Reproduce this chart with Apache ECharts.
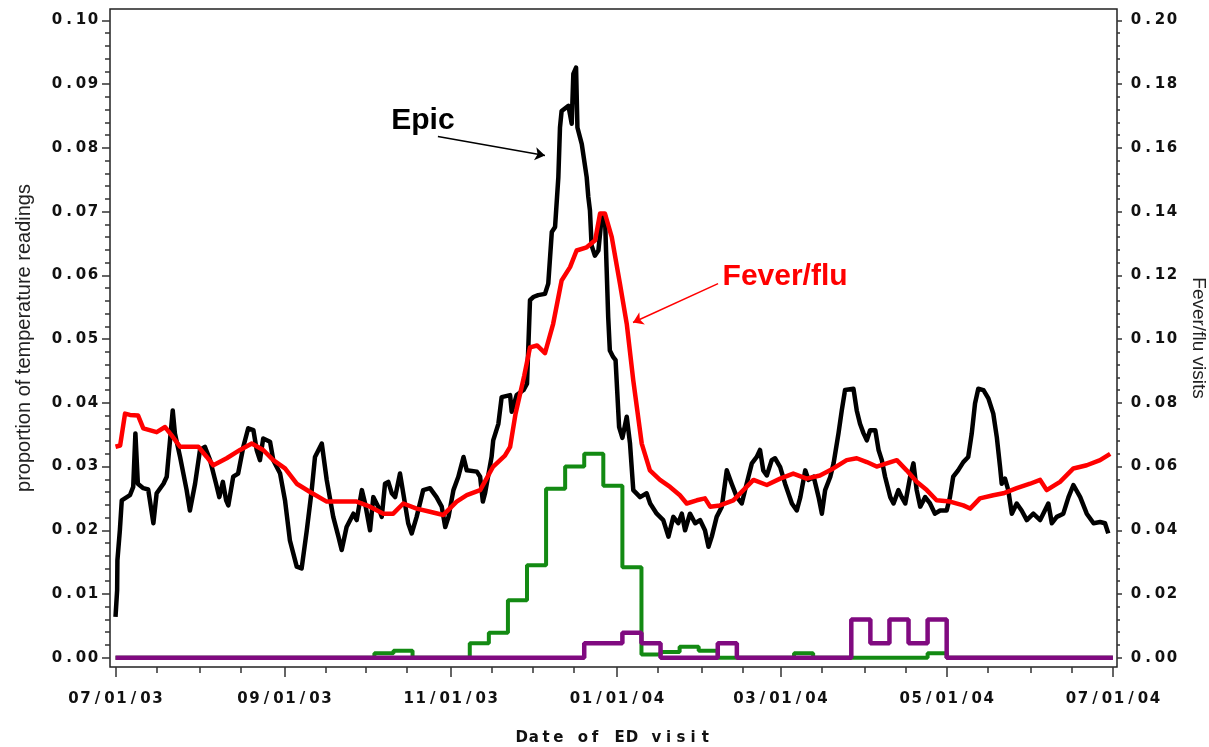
<!DOCTYPE html>
<html><head><meta charset="utf-8">
<script src="https://cdn.jsdelivr.net/npm/echarts@6/dist/echarts.min.js"></script>
<style>html,body{margin:0;padding:0;background:#fff}#c{width:1209px;height:747px}</style>
</head><body><div id="c"></div>
<script>
// x values are days since 07/01/03
const xTickLabels = ['07/01/03','09/01/03','11/01/03','01/01/04','03/01/04','05/01/04','07/01/04'];
const leftTicks = [0,0.01,0.02,0.03,0.04,0.05,0.06,0.07,0.08,0.09,0.10];
const rightTicks = [0,0.02,0.04,0.06,0.08,0.10,0.12,0.14,0.16,0.18,0.20];
const xAxisTitle = 'Date of ED visit';
const leftTitle = 'proportion of temperature readings';
const rightTitle = 'Fever/flu visits';

// Epic: proportion of temperature readings (left axis)
const epic = [
[0,0.0064],[0.6,0.0106],[0.7,0.0153],[1.6,0.020],[2.3,0.0247],[5.3,0.0255],[6.5,0.0268],[7.3,0.0352],[8.2,0.0273],
[10.2,0.0266],[12.0,0.0264],[13.9,0.0211],[15.1,0.0258],[17.6,0.0273],[18.8,0.0284],[20.0,0.0341],[21.0,0.0388],
[21.8,0.0352],[23.7,0.0315],[26.1,0.0263],[27.3,0.0231],[29.2,0.0273],[31.0,0.0326],[32.8,0.0331],[34.7,0.031],
[36.9,0.0273],[38.1,0.0252],[39.4,0.0276],[40.6,0.0247],[41.4,0.0239],[43.2,0.0284],[45.0,0.0289],[46.9,0.0331],
[48.7,0.036],[50.6,0.0357],[51.8,0.0326],[53.0,0.031],[54.2,0.0344],[56.7,0.0339],[57.9,0.031],[60.4,0.0289],
[62.2,0.0247],[64.0,0.0184],[66.5,0.0143],[68.3,0.014],[70.2,0.020],[72.0,0.0263],[73.2,0.0315],[75.7,0.0336],
[77.5,0.0279],[79.9,0.0221],[81.8,0.019],[83.0,0.0169],[84.8,0.0205],[87.3,0.0226],[88.5,0.0216],[90.4,0.0263],
[91.6,0.0242],[93.4,0.020],[94.6,0.0252],[96.4,0.0237],[97.7,0.0221],[98.9,0.0273],[100.1,0.0276],[101.4,0.0258],
[102.6,0.0252],[104.4,0.0289],[105.6,0.0258],[107.4,0.0211],[108.7,0.0195],[110.5,0.0221],[112.9,0.0263],
[115.4,0.0266],[117.8,0.0252],[119.7,0.0237],[121.0,0.0205],[122.2,0.0221],[124.0,0.0263],[125.8,0.0284],
[127.7,0.0315],[128.9,0.0294],[132.6,0.0292],[133.8,0.0284],[134.8,0.0245],[135.6,0.0258],[138.0,0.0315],
[138.6,0.0341],[140.5,0.0367],[141.7,0.0409],[144.8,0.0412],[145.4,0.0386],[147.2,0.0412],[149.7,0.042],
[151.0,0.043],[152.1,0.0561],[153.3,0.0566],[155.1,0.0569],[157.6,0.0571],[158.8,0.0587],[160.1,0.0668],
[161.3,0.0676],[162.5,0.0754],[163.1,0.0832],[163.7,0.0858],[166.2,0.0866],[167.4,0.0838],[168.0,0.0916],
[169.0,0.0926],[169.5,0.0832],[171.1,0.0806],[172.9,0.0754],[173.5,0.0723],[174.1,0.0702],[174.7,0.0647],
[175.9,0.0631],[177.2,0.0639],[178.4,0.0691],[179.6,0.0694],[180.2,0.0613],[180.8,0.0534],[181.4,0.0482],
[182.6,0.0472],[183.5,0.0467],[184.8,0.0362],[186.0,0.0345],[187.6,0.0378],[188.8,0.0336],[190.0,0.0263],
[192.5,0.0252],[194.9,0.0258],[196.2,0.0242],[198.6,0.0226],[201.0,0.0216],[202.9,0.019],[204.7,0.0221],
[206.5,0.0211],[207.8,0.0226],[209.0,0.020],[210.8,0.0226],[212.7,0.0211],[214.5,0.0216],[216.3,0.020],
[217.6,0.0174],[218.8,0.019],[220.6,0.0221],[222.5,0.0237],[224.3,0.0294],[226.1,0.0273],[228.0,0.0252],
[229.8,0.0242],[231.6,0.0273],[233.5,0.0305],[235.3,0.0315],[236.5,0.0326],[237.7,0.0294],[239.0,0.0286],
[240.8,0.031],[242.0,0.0313],[243.9,0.0299],[245.7,0.0273],[248.2,0.0242],[250.0,0.0231],[251.3,0.0252],
[253.1,0.0294],[254.3,0.0279],[256.2,0.0284],[258.0,0.0252],[259.2,0.0226],[260.4,0.0263],[262.3,0.0284],
[263.5,0.0305],[265.3,0.0352],[266.5,0.0388],[267.7,0.042],[270.8,0.0422],[272.0,0.0388],[273.2,0.0367],
[274.5,0.0352],[275.7,0.0341],[276.9,0.0357],[278.8,0.0357],[280.0,0.0326],[281.2,0.031],[282.4,0.0284],
[284.3,0.0252],[285.5,0.0242],[287.3,0.0263],[288.5,0.0252],[289.8,0.0242],[291.6,0.0284],[292.8,0.0305],
[294.0,0.0263],[295.3,0.0237],[297.1,0.0252],[298.9,0.0242],[300.7,0.0226],[302.6,0.0231],[305.0,0.0231],
[306.2,0.0252],[307.4,0.0284],[309.2,0.0294],[311.1,0.0307],[312.9,0.0315],[314.2,0.0352],[315.4,0.0399],
[316.6,0.0422],[318.5,0.042],[320.3,0.0407],[322.1,0.0383],[323.4,0.0346],[324.6,0.0299],[325.2,0.0273],
[326.4,0.0281],[327.6,0.0263],[328.9,0.0226],[330.7,0.0242],[332.5,0.0231],[334.4,0.0216],[336.8,0.0226],
[339.3,0.0216],[342.3,0.0242],[343.6,0.0211],[345.4,0.0221],[347.8,0.0226],[349.7,0.0252],[351.5,0.0271],
[354.0,0.0252],[356.4,0.0226],[358.9,0.0211],[361.3,0.0213],[363.1,0.0211],[364.3,0.0195]
];

// Fever/flu visits (right axis)
const feverFlu = [
[0,0.0662],[1.7,0.0666],[3.5,0.0766],[5.3,0.0762],[8.3,0.076],[10.2,0.072],[15.1,0.0708],[18.2,0.0724],
[20.6,0.0698],[23.7,0.0662],[30.4,0.0662],[33.5,0.063],[35.9,0.0604],[40.8,0.0626],[45.7,0.0652],[50.0,0.0672],
[54.2,0.0652],[57.9,0.062],[62.2,0.0594],[66.5,0.0546],[71.4,0.052],[77.5,0.049],[82.4,0.049],[88.5,0.049],
[93.4,0.0474],[98.3,0.0452],[101.9,0.0452],[105.6,0.0484],[110.5,0.0468],[115.4,0.0458],[120.3,0.0448],
[125.2,0.049],[128.9,0.051],[133.8,0.0526],[138.6,0.060],[142.9,0.0634],[144.8,0.0662],[146.8,0.0766],
[150.0,0.0886],[152.1,0.0974],[154.7,0.098],[157.6,0.0956],[160.6,0.1048],[163.7,0.1184],[166.8,0.1226],
[169.2,0.1278],[172.9,0.1288],[176.0,0.131],[177.8,0.1394],[179.6,0.1394],[182.1,0.132],[185.1,0.1174],
[187.6,0.1048],[190.0,0.087],[193.1,0.0672],[196.1,0.0588],[199.8,0.0558],[203.5,0.0536],[207.1,0.051],
[209.6,0.0484],[213.3,0.0494],[216.3,0.05],[218.2,0.0474],[221.8,0.0478],[226.7,0.0494],[230.4,0.0526],
[234.1,0.0558],[239.0,0.0542],[243.9,0.0562],[248.7,0.0578],[253.6,0.0562],[258.5,0.0572],[263.4,0.0594],
[268.3,0.062],[272.0,0.0626],[275.7,0.0614],[279.3,0.060],[283.0,0.061],[286.7,0.062],[290.3,0.0588],
[294.0,0.0552],[297.7,0.0526],[301.3,0.0494],[306.2,0.049],[311.1,0.0478],[313.6,0.0468],[317.2,0.050],
[322.1,0.051],[325.8,0.0516],[330.7,0.0532],[335.6,0.0546],[339.3,0.0558],[341.7,0.0526],[346.6,0.0552],
[351.5,0.0594],[356.4,0.0604],[361.3,0.062],[365.0,0.064]
];

// weekly step series (left axis units)
const greenWeekly = [
[0,0],[95,0.0007],[102,0.0011],[109,0],[130,0.00225],[137,0.0039],[144,0.009],[151,0.0145],[158,0.0265],
[165,0.030],[172,0.032],[179,0.027],[186,0.0142],[193,0.0005],[200,0.0009],[207,0.0017],[214,0.0011],
[221,0],[249,0.0007],[256,0],[298,0.0007],[305,0],[366,0]
];
const purpleWeekly = [
[0,0],[172,0.00225],[186,0.0039],[193,0.00225],[200,0],[221,0.00225],[228,0],[270,0.006],[277,0.00225],
[284,0.006],[291,0.00225],[298,0.006],[305,0],[366,0]
];

// annotations: [day, left-axis value]
const epicLabel = {text:'Epic', at:[112.8,0.0843], arrowFrom:[118.3,0.0818], arrowTo:[157.6,0.0788]};
const feverLabel = {text:'Fever/flu', at:[245.7,0.0598], arrowFrom:[221.1,0.0587], arrowTo:[189.9,0.0526]};

const START = Date.UTC(2003,6,1);
const DAY = 86400000;
function dayOfLabel(s){const [m,d,y]=s.split('/').map(Number);return Math.round((Date.UTC(2000+y,m-1,d)-START)/DAY);}
const majorDays = xTickLabels.map(dayOfLabel);
const minorDays = [];
for (let y=2003, m=6; ; ) {
  [1,16].forEach(dd=>{const t=(Date.UTC(y,m,dd)-START)/DAY; if(t>=0&&t<=366) minorDays.push(Math.round(t));});
  m++; if(m>11){m=0;y++;} if(y===2004&&m>6) break;
}
// minor ticks: 5 per major interval
function minorsOf(ticks){const out=[];for(let i=0;i<ticks.length-1;i++){const a=ticks[i],b=ticks[i+1];for(let k=1;k<5;k++)out.push(+(a+(b-a)*k/5).toFixed(5));}return out;}
const leftMinor = minorsOf(leftTicks), rightMinor = minorsOf(rightTicks);

function cells(s, st){return s.split('').map(ch=>'{'+st+'|'+ch+'}').join('');}
const FONT = 'DejaVu Sans';
const cellStyle = {fontFamily:FONT,fontWeight:'bold',fontSize:15,width:12,align:'center',color:'#111',lineHeight:17};
const tickColor = '#333';
const lblBase = {fontFamily:FONT,fontWeight:'bold',fontSize:15,color:'#111'};
const noLine = {show:false,onZero:false};

// plot frame in pixels; data range of the axes is extended so that the
// frame sits a little outside the first / last tick, as in the original
const frame = {left:110, right:1117, top:9, bottom:667};
const xPad = [-2.02, 367.5];
const yLeftRange = [-0.00146, 0.1018];
const yRightRange = [yLeftRange[0]*2, yLeftRange[1]*2];

const chart = echarts.init(document.getElementById('c'));
chart.setOption({
  animation:false,
  backgroundColor:'#fff',
  grid:{left:frame.left,right:1209-frame.right,top:frame.top,bottom:747-frame.bottom,containLabel:false,outerBoundsMode:'none',
        show:true,borderColor:'#222',borderWidth:1.5,backgroundColor:'transparent'},
  xAxis:[{
    type:'value',min:xPad[0],max:xPad[1],position:'bottom',
    axisLine:noLine,splitLine:{show:false},
    axisTick:{show:true,inside:false,customValues:majorDays,length:10,lineStyle:{color:tickColor,width:1.5}},
    axisLabel:Object.assign({customValues:majorDays,margin:24,formatter:v=>cells(xTickLabels[majorDays.indexOf(Math.round(v))]||'','c'),rich:{c:cellStyle}},lblBase),
    name:cells(xAxisTitle,'c'),nameLocation:'middle',nameGap:63,
    nameTextStyle:Object.assign({rich:{c:Object.assign({},cellStyle,{width:12.25})}},lblBase)
  },{
    type:'value',min:xPad[0],max:xPad[1],position:'bottom',
    axisLine:noLine,splitLine:{show:false},
    axisTick:{show:true,inside:false,customValues:minorDays,length:6,lineStyle:{color:tickColor,width:1.5}},
    axisLabel:{show:false}
  }],
  yAxis:[{
    type:'value',min:yLeftRange[0],max:yLeftRange[1],position:'left',
    axisLine:noLine,splitLine:{show:false},
    axisTick:{show:true,inside:false,customValues:leftTicks,length:8,lineStyle:{color:tickColor,width:1.5}},
    axisLabel:Object.assign({customValues:leftTicks,margin:11,formatter:v=>cells(v.toFixed(2),'c'),rich:{c:cellStyle}},lblBase),
    name:leftTitle,nameLocation:'middle',nameRotate:90,nameGap:76,
    nameTextStyle:{fontFamily:'Liberation Sans',fontSize:20,color:'#222'}
  },{
    type:'value',min:yRightRange[0],max:yRightRange[1],position:'right',
    axisLine:noLine,splitLine:{show:false},
    axisTick:{show:true,inside:false,customValues:rightTicks,length:5,lineStyle:{color:tickColor,width:1.5}},
    axisLabel:Object.assign({customValues:rightTicks,margin:13,formatter:v=>cells(v.toFixed(2),'c'),rich:{c:cellStyle}},lblBase),
    name:rightTitle,nameLocation:'middle',nameRotate:-90,nameGap:66,
    nameTextStyle:{fontFamily:'Liberation Sans',fontSize:19,color:'#222'}
  },{
    type:'value',min:yLeftRange[0],max:yLeftRange[1],position:'left',
    axisLine:noLine,splitLine:{show:false},
    axisTick:{show:true,inside:false,customValues:leftMinor,length:5,lineStyle:{color:tickColor,width:1.5}},
    axisLabel:{show:false}
  },{
    type:'value',min:yRightRange[0],max:yRightRange[1],position:'right',
    axisLine:noLine,splitLine:{show:false},
    axisTick:{show:true,inside:false,customValues:rightMinor,length:3,lineStyle:{color:tickColor,width:1.5}},
    axisLabel:{show:false}
  }],
  series:[
    {name:'green',type:'line',data:greenWeekly,step:'end',showSymbol:false,symbol:'none',clip:false,
     lineStyle:{color:'#138a13',width:4},xAxisIndex:0,yAxisIndex:0},
    {name:'purple',type:'line',data:purpleWeekly,step:'end',showSymbol:false,symbol:'none',clip:false,
     lineStyle:{color:'#800a80',width:4.5},xAxisIndex:0,yAxisIndex:0},
    {name:'Epic',type:'line',data:epic,showSymbol:false,symbol:'none',clip:false,
     lineStyle:{color:'#000',width:4.5,join:'round'},xAxisIndex:0,yAxisIndex:0,
     markLine:{silent:true,symbol:['none','arrow'],symbolSize:10,label:{show:false},animation:false,
       data:[
         [{coord:epicLabel.arrowFrom,lineStyle:{color:'#000',width:1.5,type:'solid'}},{coord:epicLabel.arrowTo}],
         [{coord:feverLabel.arrowFrom,lineStyle:{color:'#ff0000',width:1.5,type:'solid'}},{coord:feverLabel.arrowTo}]
       ]},
     markPoint:{silent:true,symbol:'circle',symbolSize:0,animation:false,
       data:[
         {coord:epicLabel.at,value:epicLabel.text,label:{show:true,position:'inside',formatter:epicLabel.text,color:'#000',fontFamily:'Liberation Sans',fontWeight:'bold',fontSize:30}},
         {coord:feverLabel.at,value:feverLabel.text,label:{show:true,position:'inside',formatter:feverLabel.text,color:'#ff0000',fontFamily:'Liberation Sans',fontWeight:'bold',fontSize:30}}
       ]}
    },
    {name:'Fever/flu',type:'line',data:feverFlu,showSymbol:false,symbol:'none',clip:false,
     lineStyle:{color:'#ff0000',width:4.5,join:'round'},xAxisIndex:0,yAxisIndex:1}
  ]
});
</script>
</body></html>
